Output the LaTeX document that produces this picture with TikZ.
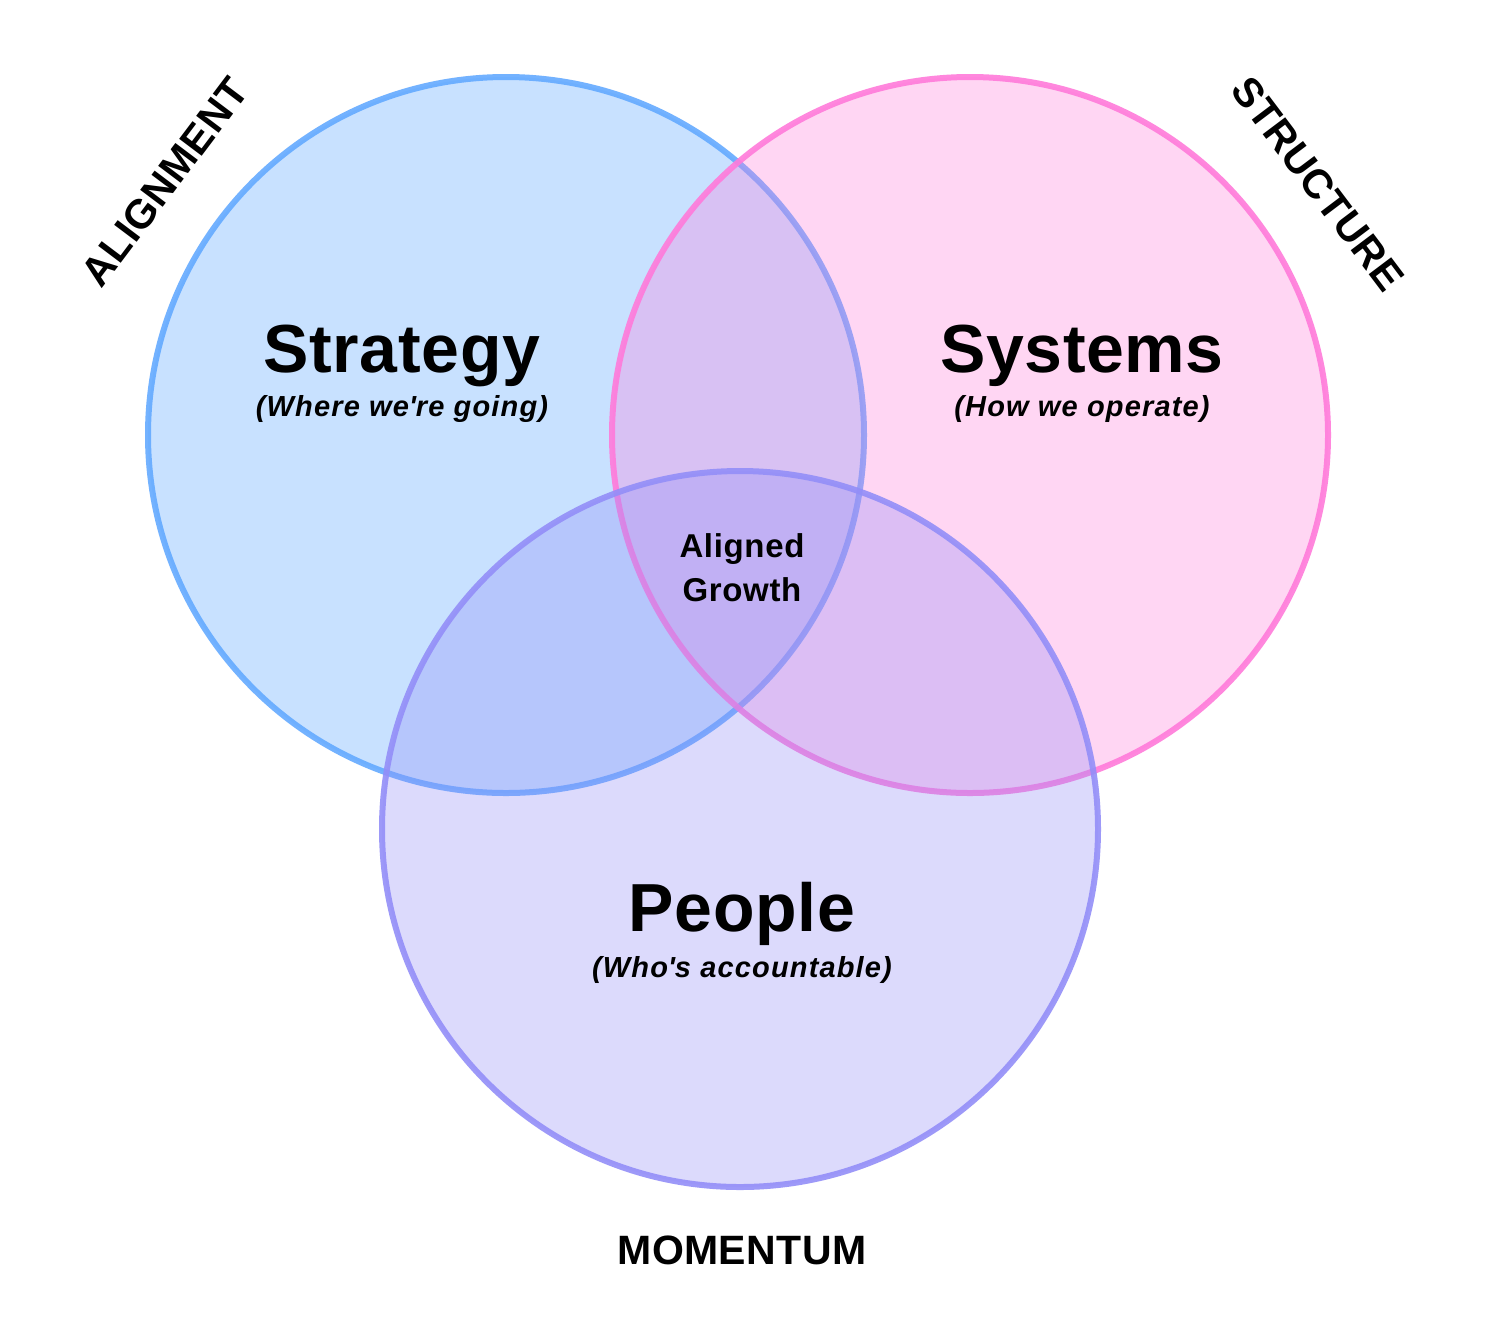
\documentclass[tikz,border=0pt]{standalone}
\usepackage{fontspec}
\setmainfont{Liberation Sans}
\usepackage{tikz}
\usetikzlibrary{positioning}
\definecolor{stratblue}{HTML}{64AAFF}
\definecolor{syspink}{HTML}{FF7ADA}
\definecolor{peoplevio}{HTML}{938EF8}
\tikzset{
  ring/.style={circle, minimum size=716*0.5pt, line width=3pt, inner sep=0pt,
               fill opacity=0.35, draw opacity=0.9},
  ttl/.style={font=\fontsize{34}{38}\selectfont\bfseries\addfontfeature{LetterSpace=1}, anchor=base},
  sub/.style={font=\fontsize{14.5}{16}\selectfont\bfseries\itshape\addfontfeature{LetterSpace=4}, anchor=base},
  mid/.style={font=\fontsize{16.5}{22}\selectfont\bfseries\addfontfeature{LetterSpace=2}, align=center},
  side/.style={font=\fontsize{20.5}{24}\selectfont\bfseries\addfontfeature{LetterSpace=1}}
}

\begin{document}
\begin{tikzpicture}[x=0.5pt, y=-0.5pt]
  \fill[white] (0,0) rectangle (1493,1340);
  \useasboundingbox (0,0) rectangle (1493,1340);
  % Circles
  \node[ring, draw=stratblue, fill=stratblue] (strat) at (506,435) {};
  \node[ring, draw=syspink, fill=syspink, fill opacity=0.3] (sys) at (970,435) {};
  \node[ring, draw=peoplevio, fill=peoplevio, fill opacity=0.32] (ppl) at (740,829) {};
  % Titles
  \node[ttl] (stratT) at (402,372) {Strategy};
  \node[sub] (stratS) at (402,416) {(Where we\textquotesingle re going)};
  \node[ttl] (sysT) at (1082,372) {Systems};
  \node[sub] (sysS) at (1082,416) {(How we operate)};
  \node[ttl] (pplT) at (742,931) {People};
  \node[sub] (pplS) at (742,977) {(Who\textquotesingle s accountable)};
  \node[mid] (core) at (742,568) {Aligned\\Growth};
  % Outer labels
  \node[side, rotate=53] (align) at (165,182) {ALIGNMENT};
  \node[side, rotate=-53] (struct) at (1318,184) {STRUCTURE};
  \node[side, anchor=base] (moment) at (742,1264) {MOMENTUM};
\end{tikzpicture}
\end{document}
